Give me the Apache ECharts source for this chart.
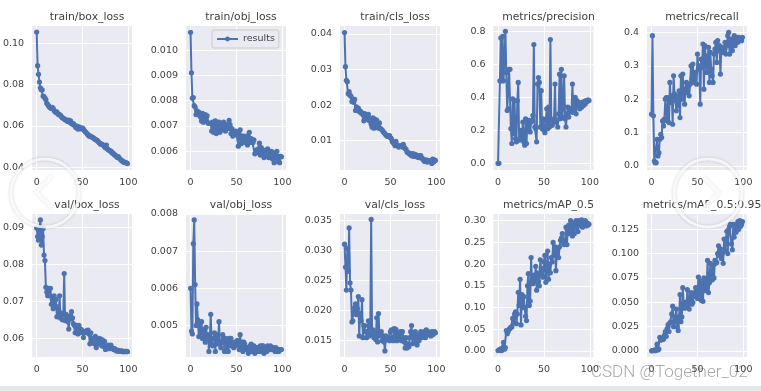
<!DOCTYPE html>
<html><head><meta charset="utf-8">
<style>html,body{margin:0;padding:0;background:#fff}#c{width:761px;height:391px;filter:blur(0.5px)}</style>
<script src="https://cdn.jsdelivr.net/npm/echarts@6/dist/echarts.min.js"></script>
</head><body><div id="c"></div>
<script>
const titles=['train/box_loss','train/obj_loss','train/cls_loss','metrics/precision','metrics/recall','val/box_loss','val/obj_loss','val/cls_loss','metrics/mAP_0.5','metrics/mAP_0.5:0.95'];
const trainBox=[.1055,.0892,.085,.0813,.0785,.0775,.0775,.0745,.0742,.0735,.0728,.071,.0705,.0697,.0692,.0688,.0685,.069,.0685,.0675,.067,.0665,.0668,.066,.0655,.0655,.0652,.0645,.064,.0638,.0635,.063,.063,.0625,.0622,.0628,.0618,.0625,.0612,.0608,.0612,.0605,.0598,.0592,.06,.0585,.0596,.0592,.0586,.059,.059,.0585,.0578,.0572,.0568,.0562,.0558,.0552,.0552,.0548,.0548,.0545,.0542,.0538,.0535,.0532,.053,.0525,.052,.0515,.0512,.0512,.051,.0505,.05,.0495,.0508,.049,.0485,.0482,.048,.0478,.047,.047,.0465,.046,.0458,.0452,.0448,.0452,.0445,.044,.0435,.0432,.0428,.0425,.0425,.0422,.0422,.0418];
const trainObj=[.0107,.0091,.0081,.00812,.0078,.00775,.00745,.0076,.0075,.00755,.0074,.00735,.0072,.0075,.00715,.0073,.00745,.00725,.0074,.00712,.0071,.0071,.0071,.0068,.00715,.00675,.00705,.0072,.0067,.0071,.00685,.00715,.00675,.00695,.0071,.00685,.00715,.00695,.0068,.00705,.0069,.0069,.00722,.00705,.0067,.0069,.0066,.0068,.00665,.0068,.0067,.00675,.0062,.00665,.00685,.0063,.0066,.0065,.0066,.00635,.00655,.0066,.00625,.00655,.00675,.00635,.0065,.0064,.00635,.00645,.0059,.00605,.00595,.00605,.0061,.00632,.00585,.00615,.0059,.00605,.00575,.00595,.00605,.0059,.0061,.00575,.00595,.0058,.0060,.0057,.00595,.00555,.0059,.00575,.0060,.0056,.0058,.00555,.0058,.00578];
const trainCls=[.0404,.0308,.027,.0266,.0232,.0238,.0228,.0225,.021,.0217,.0208,.0216,.0185,.0195,.0187,.0192,.0182,.0184,.0178,.0178,.0174,.0156,.0176,.016,.0172,.0168,.0174,.0156,.0162,.0146,.0138,.0164,.0135,.016,.0142,.0158,.0138,.0135,.015,.0135,.0132,.013,.0126,.0122,.012,.0116,.0114,.0112,.0113,.0114,.0108,.0106,.0098,.0094,.0092,.0086,.0098,.0088,.0085,.0082,.0084,.0086,.0084,.0082,.009,.0082,.0078,.0076,.0068,.0066,.0066,.0062,.0062,.0058,.0064,.0056,.0062,.0056,.006,.0054,.0054,.0058,.0052,.0058,.0052,.005,.0046,.0042,.0042,.0046,.004,.0042,.0042,.0044,.0044,.0036,.0048,.004,.0046,.0044];
const precision=[0,0,.5,.76,.5,.77,.5,.62,.8,.55,.32,.33,.57,.57,.21,.12,.39,.18,.38,.15,.13,.38,.49,.14,.15,.2,.15,.25,.13,.11,.27,.12,.26,.21,.26,.19,.25,.26,.29,.72,.22,.21,.13,.48,.52,.49,.22,.44,.21,.27,.2,.185,.26,.33,.21,.34,.22,.75,.26,.23,.25,.27,.48,.25,.26,.22,.3,.54,.27,.57,.28,.35,.53,.27,.22,.3,.34,.28,.33,.33,.31,.48,.31,.33,.4,.3,.38,.35,.37,.33,.36,.34,.37,.35,.375,.36,.38,.375,.385,.38];
const recall=[.155,.39,.15,.015,.01,.01,.08,.03,.04,.08,.095,.085,.135,.12,.14,.2,.205,.135,.205,.13,.25,.19,.21,.125,.27,.215,.195,.165,.21,.18,.225,.145,.27,.2,.275,.225,.185,.23,.25,.22,.245,.21,.245,.3,.26,.305,.25,.26,.28,.245,.335,.29,.3,.185,.32,.295,.365,.23,.36,.33,.28,.31,.355,.25,.34,.29,.27,.25,.335,.35,.37,.31,.375,.345,.36,.275,.35,.355,.34,.345,.37,.335,.36,.39,.4,.335,.365,.38,.345,.37,.39,.36,.375,.385,.37,.385,.38,.38,.375,.385];
const valBox=[.0898,.0875,.0865,.0892,.092,.0852,.0875,.0897,.0825,.081,.0738,.0725,.0715,.0735,.0715,.0735,.0692,.0705,.068,.0715,.0685,.0705,.0658,.0685,.0665,.0715,.0655,.0668,.065,.0665,.0775,.0648,.0665,.0655,.0645,.0625,.066,.0652,.0672,.0655,.064,.0635,.0615,.0635,.0625,.0612,.0635,.0615,.0625,.0622,.0618,.0602,.0618,.0615,.062,.062,.0622,.0612,.0585,.0615,.06,.059,.0595,.0585,.0605,.0575,.0595,.0585,.06,.059,.0598,.058,.0595,.0578,.0592,.057,.0578,.0575,.0582,.0572,.0578,.0582,.0575,.0572,.057,.0572,.0568,.0566,.0568,.0565,.0567,.0565,.0565,.0566,.0564,.0565,.0564,.0565,.0565,.0564];
const valObj=[.006,.00485,.00477,.0072,.00784,.0061,.005,.00558,.00515,.0047,.00505,.0048,.0051,.00465,.0048,.0049,.00455,.00495,.00465,.00475,.0043,.00465,.0053,.0045,.00445,.00465,.0048,.0043,.00475,.0045,.0046,.0051,.0045,.0044,.00455,.00475,.00465,.0043,.00465,.0044,.0046,.0043,.00465,.00445,.00465,.0045,.00445,.0044,.00455,.00445,.0045,.0046,.0045,.00435,.00475,.0044,.00455,.0043,.00455,.0045,.0044,.00435,.0044,.00425,.0044,.00445,.0045,.0043,.00435,.00445,.00425,.0044,.0043,.0044,.0043,.00435,.00445,.0043,.00445,.00445,.00425,.0044,.00435,.0043,.00445,.0044,.00435,.00445,.00435,.0044,.0044,.00435,.0043,.0044,.0043,.00435,.0043,.00435,.00435,.00435];
const valCls=[.031,.0272,.0234,.0303,.0265,.0337,.0246,.0234,.0181,.0183,.0198,.0205,.0211,.0193,.0203,.0223,.0158,.0195,.0183,.0218,.0155,.0175,.0175,.0165,.0155,.0165,.0183,.0158,.0172,.0351,.0162,.0168,.0155,.0165,.0152,.0188,.0148,.0195,.016,.0158,.0165,.015,.0158,.0148,.0133,.0158,.0155,.0152,.0155,.015,.0165,.0168,.0155,.015,.017,.0155,.0169,.015,.0163,.0158,.0155,.0165,.015,.0165,.0155,.0148,.0138,.0155,.0138,.0145,.014,.0155,.0165,.0175,.0145,.0162,.0155,.0165,.015,.0143,.016,.015,.0155,.0165,.0155,.0162,.016,.0165,.0155,.0168,.016,.0165,.016,.0163,.0158,.0165,.016,.0162,.0165,.0163];
const mAP5=[.001,.002,.004,.005,.001,.005,.02,.004,.008,.047,.04,.045,.05,.052,.055,.055,.075,.065,.085,.09,.063,.085,.135,.105,.165,.06,.13,.1,.125,.1,.08,.07,.15,.178,.105,.115,.215,.16,.155,.175,.16,.195,.14,.18,.16,.15,.21,.19,.175,.17,.205,.22,.158,.19,.23,.165,.2,.18,.215,.205,.25,.22,.24,.185,.225,.235,.215,.24,.255,.26,.27,.25,.245,.255,.285,.245,.28,.29,.27,.3,.285,.265,.295,.27,.285,.3,.285,.275,.3,.295,.29,.302,.285,.298,.29,.3,.288,.295,.29,.292];
const mAP95=[.0001,.0003,.0005,.0008,.0002,.001,.007,.001,.002,.014,.011,.012,.013,.012,.016,.02,.015,.023,.027,.02,.029,.03,.038,.046,.025,.03,.035,.043,.025,.021,.035,.058,.03,.035,.065,.048,.044,.05,.045,.063,.052,.043,.055,.06,.048,.05,.056,.06,.065,.057,.054,.076,.058,.072,.052,.07,.051,.075,.062,.074,.065,.093,.06,.07,.09,.08,.073,.088,.075,.093,.09,.091,.1,.108,.098,.105,.095,.1,.09,.115,.103,.115,.123,.1,.125,.128,.13,.11,.104,.13,.117,.125,.122,.13,.133,.125,.134,.128,.13,.133];
const seriesValues=[trainBox,trainObj,trainCls,precision,recall,valBox,valObj,valCls,mAP5,mAP95];
const yTicks=[[.04,.06,.08,.10],[.006,.007,.008,.009,.010],[.01,.02,.03,.04],[0,.2,.4,.6,.8],[0,.1,.2,.3,.4],[.06,.07,.08,.09],[.005,.006,.007,.008],[.015,.02,.025,.03,.035],[0,.05,.1,.15,.2,.25,.3],[0,.025,.05,.075,.1,.125]];
const yDecimals=[2,3,2,1,1,2,3,3,2,3];
const yMin=[.0387,.00526,.00176,-.0406,-.012,.05495,.00415,.0123,-.0138,-.0062];
const yMax=[.1084,.01095,.04225,.832,.419,.0936,.008,.036,.3154,.1407];
const xTicks=[0,50,100];
const panelLeft=[32,186,340,493.5,647];
const rowTop=[26,214];
const rowHeight=[144,143];
const blue='#4c72b0',ink='#3f3f3f',font='DejaVu Sans';
const grid=[],xAxis=[],yAxis=[],series=[],title=[];
titles.forEach((t,i)=>{
  const row=i<5?0:1,col=i%5,left=panelLeft[col],top=rowTop[row];
  grid.push({left,top,width:100,height:rowHeight[row],show:true,backgroundColor:'#eaeaf2',borderWidth:0});
  title.push({text:t,left:left+50,top:top-19,textAlign:'center',textStyle:{fontFamily:font,fontSize:10.8,fontWeight:'normal',color:ink}});
  const line={show:true,lineStyle:{color:'#fff',width:1}};
  xAxis.push({type:'value',gridIndex:i,min:-4.95,max:103.95,axisLine:{show:false},
    axisTick:{show:false,customValues:xTicks},splitLine:line,
    axisLabel:{customValues:xTicks,fontFamily:font,fontSize:9.5,color:ink,margin:8,formatter:v=>String(v)}});
  yAxis.push({type:'value',gridIndex:i,min:yMin[i],max:yMax[i],axisLine:{show:false},
    axisTick:{show:false,customValues:yTicks[i]},splitLine:line,
    axisLabel:{customValues:yTicks[i],fontFamily:font,fontSize:9.5,color:ink,margin:8,formatter:v=>v.toFixed(yDecimals[i])}});
  series.push({name:'results',type:'line',xAxisIndex:i,yAxisIndex:i,data:seriesValues[i].map((v,k)=>[k,v]),
    symbol:'circle',symbolSize:5.2,showSymbol:true,showAllSymbol:true,animation:false,clip:false,
    lineStyle:{color:blue,width:2},itemStyle:{color:blue}});
});
const ring=(cx,cy)=>({type:'circle',shape:{cx,cy,r:34},style:{stroke:'rgba(255,255,255,0.8)',lineWidth:3,fill:null,shadowBlur:3,shadowColor:'rgba(0,0,0,0.22)'},z:50});
const chevron=(cx,cy,d)=>({type:'polyline',shape:{points:[[cx+d*7,cy-16],[cx-d*9,cy],[cx+d*7,cy+16]]},style:{stroke:'rgba(255,255,255,0.85)',lineWidth:4,fill:null,shadowBlur:2,shadowColor:'rgba(0,0,0,0.15)'},z:50});
const graphic=[
  {type:'rect',shape:{x:0,y:386,width:761,height:5},style:{fill:'#e4e6e8'},z:40},
  ring(45,193),ring(708,193),
  chevron(45,192,1),chevron(710,193,-1),
  {type:'text',x:591,y:364,style:{text:'CSDN @Together_02',fontFamily:'Roboto',fontSize:17,fontWeight:300,fill:'rgba(110,110,110,0.6)'},z:60}
];
const chart=echarts.init(document.getElementById('c'),null,{renderer:'canvas'});
chart.setOption({animation:false,backgroundColor:'#fff',title,grid,xAxis,yAxis,series,graphic,
  legend:{show:true,data:['results'],left:212,top:30,itemWidth:21,itemHeight:6,itemGap:4,padding:[4,4,4,4],
    backgroundColor:'rgba(234,234,242,0.85)',borderColor:'#cccccc',borderWidth:1,borderRadius:2,
    textStyle:{fontFamily:font,fontSize:9.5,color:ink}}});
</script></body></html>
